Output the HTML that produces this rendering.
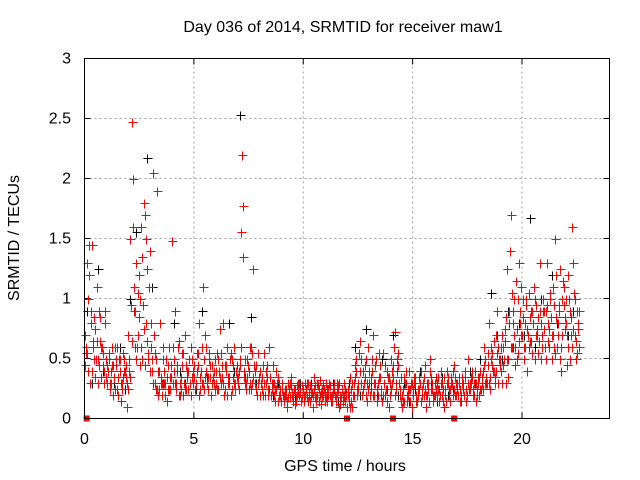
<!DOCTYPE html>
<html><head><meta charset="utf-8"><style>
body{margin:0;background:#fff}
svg{display:block;font-family:"Liberation Sans",sans-serif}
</style></head><body>
<svg id="chart" width="640" height="480">
<text x="343" y="32" font-size="16" text-anchor="middle" fill="#000">Day 036 of 2014, SRMTID for receiver maw1</text>
<text x="345" y="471" font-size="16" text-anchor="middle">GPS time / hours</text>
<text transform="translate(19,238) rotate(-90)" font-size="16" text-anchor="middle">SRMTID / TECUs</text>
<g id="grid"></g>
<g id="ticks"></g>
<g id="pts"></g>
<rect x="84.5" y="58.5" width="525" height="360" fill="none" stroke="#000"/>
</svg>
<script>
const xTicks=[0,5,10,15,20];
const yTicks=[0,0.5,1,1.5,2,2.5,3];
const yTickLabels=["0","0.5","1","1.5","2","2.5","3"];
const redA=[0.45,1.3,1.45,0.9,0.6,0.75,0.5,0.85,0.6,0.4,
0.35,0.5,0.3,0.45,0.25,0.6,0.4,0.3,0.5,0.35,
0.7,1.5,2.0,0.9,0.6,1.2,1.6,1.8,0.8,0.55,
1.4,0.4,0.3,1.9,0.25,0.35,0.6,0.3,0.45,0.25,
1.48,0.5,0.3,0.65,0.25,0.2,0.7,0.4,0.3,0.35,
0.45,0.3,0.55,0.25,1.1,0.35,0.3,0.5,0.2,0.4,
0.3,0.5,0.75,0.35,0.25,0.6,0.3,0.2,0.45,0.3,
0.35,0.5,2.2,0.4,0.3,0.25,0.6,1.25,0.3,0.2,
0.4,0.25,0.55,0.3,0.2,0.35,0.45,0.25,0.3,0.2,
0.15,0.2,0.25,0.3,0.18,0.22,0.12,0.28,0.2,0.15,
0.25,0.2,0.3,0.15,0.22,0.35,0.18,0.25,0.12,0.2,
0.22,0.15,0.28,0.2,0.3,0.18,0.25,0.12,0.2,0.15,
0.1,0.2,0.15,0.3,0.5,0.25,0.65,0.2,0.35,0.15,
0.4,0.25,0.7,0.3,0.2,0.45,0.15,0.3,0.25,0.1,
0.5,0.35,0.72,0.4,0.2,0.1,0.15,0.3,0.2,0.25,
0.2,0.3,0.15,0.25,0.4,0.2,0.1,0.3,0.5,0.25,
0.3,0.2,0.15,0.4,0.25,0.2,0.35,0.15,0.3,0.45,
0.2,0.3,0.15,0.25,0.4,0.2,0.3,0.35,0.2,0.15,
0.3,0.4,0.25,0.5,0.3,0.8,0.6,0.4,0.7,0.3,
0.5,0.3,0.65,1.25,0.8,1.7,0.9,0.6,1.0,0.8,
0.7,0.5,1.0,0.6,0.9,0.8,0.5,0.7,1.3,0.6,
0.9,0.5,0.8,1.0,0.7,1.5,0.6,0.9,0.4,1.1,
0.8,1.2,0.5,1.6,0.7,0.9,0.6];
const redB=[0.6,1.0,0.3,1.45,0.5,0.65,0.9,0.35,0.55,0.8,
0.45,0.25,0.6,0.35,0.5,0.2,0.3,0.55,0.4,0.1,
0.4,2.47,0.9,1.3,0.7,1.0,0.5,1.7,0.65,1.1,
0.6,2.05,0.5,0.2,0.8,0.3,0.4,0.15,0.6,0.35,
0.3,0.9,0.4,0.2,0.55,0.3,0.45,0.25,0.6,0.3,
0.25,0.4,0.8,0.3,0.5,0.6,0.35,0.45,0.3,0.25,
0.55,0.4,0.3,0.8,0.45,0.35,0.5,0.25,0.6,0.35,
0.25,1.55,1.77,0.5,0.35,0.6,0.3,0.45,0.25,0.55,
0.3,0.45,0.2,0.35,0.6,0.25,0.3,0.4,0.15,0.25,
0.3,0.2,0.1,0.25,0.35,0.2,0.15,0.3,0.22,0.28,
0.15,0.3,0.2,0.25,0.1,0.28,0.2,0.32,0.18,0.25,
0.3,0.2,0.15,0.25,0.2,0.3,0.1,0.25,0.18,0.22,
0.25,0.35,0.1,0.45,0.2,0.55,0.3,0.4,0.2,0.6,
0.2,0.5,0.3,0.15,0.35,0.25,0.55,0.2,0.4,0.3,
0.3,0.6,0.25,0.45,0.35,0.15,0.3,0.2,0.4,0.1,
0.35,0.15,0.25,0.3,0.2,0.45,0.3,0.15,0.25,0.2,
0.25,0.35,0.2,0.3,0.1,0.4,0.25,0.3,0.2,0.35,
0.3,0.15,0.35,0.2,0.25,0.5,0.3,0.2,0.4,0.25,
0.2,0.35,0.6,0.3,0.45,0.25,0.55,0.35,0.9,0.5,
0.4,0.6,0.3,0.5,1.4,0.6,1.0,0.5,1.3,0.7,
1.0,0.8,0.4,0.65,0.9,1.1,0.7,0.85,0.5,1.0,
0.6,1.3,0.75,0.5,0.95,1.2,0.7,0.5,1.0,0.85,
0.45,1.0,0.7,1.3,0.5,0.8];
const redC=[0.7,0.55,1.2,0.4,0.85,0.5,0.3,0.65,0.45,0.9,
0.3,0.55,0.4,0.2,0.45,0.35,0.5,0.25,0.4,0.3,
0.5,0.95,1.6,0.6,1.05,0.45,1.35,0.75,1.5,0.5,
0.8,0.3,0.55,0.25,0.4,0.2,0.3,0.5,0.25,0.35,
0.6,0.3,0.45,0.2,0.35,0.55,0.25,0.4,0.3,0.5,
0.35,0.55,0.2,0.4,0.3,0.7,0.25,0.35,0.45,0.3,
0.4,0.25,0.55,0.3,0.45,0.2,0.35,0.5,0.3,0.4,
0.3,0.45,1.35,0.3,0.5,0.4,0.25,0.35,0.45,0.3,
0.2,0.35,0.3,0.45,0.25,0.2,0.3,0.15,0.35,0.2,
0.25,0.15,0.2,0.18,0.28,0.15,0.25,0.2,0.3,0.18,
0.2,0.25,0.15,0.28,0.2,0.18,0.3,0.15,0.22,0.28,
0.18,0.25,0.2,0.15,0.25,0.22,0.3,0.18,0.15,0.25,
0.2,0.1,0.3,0.2,0.4,0.3,0.5,0.25,0.45,0.3,
0.3,0.4,0.2,0.5,0.3,0.35,0.2,0.45,0.15,0.35,
0.25,0.45,0.3,0.55,0.25,0.2,0.35,0.15,0.25,0.3,
0.25,0.35,0.2,0.3,0.25,0.35,0.2,0.25,0.35,0.15,
0.2,0.3,0.25,0.2,0.35,0.15,0.3,0.25,0.4,0.2,
0.25,0.35,0.2,0.3,0.15,0.3,0.25,0.4,0.3,0.2,
0.35,0.25,0.4,0.3,0.55,0.35,0.45,0.65,0.4,0.6,
0.6,0.45,0.75,0.5,0.9,1.05,0.7,1.15,0.55,0.9,
0.85,0.6,0.75,1.05,0.65,0.8,0.95,0.55,0.9,0.7,
0.75,0.95,0.6,0.85,1.1,0.55,0.8,1.25,0.7,0.95,
1.0,0.6,0.85,0.75,1.0,0.55,0.9];
const redD=[0.55,0.4,0.8,0.65,0.35,1.1,0.45,0.6,0.3,0.5,
0.4,0.3,0.45,0.6,0.25,0.5,0.15,0.35,0.45,0.25,
0.35,0.65,1.1,0.5,0.85,0.6,0.95,0.45,1.25,0.4,
0.5,0.7,0.25,0.4,0.3,0.5,0.2,0.35,0.25,0.45,
0.4,0.25,0.6,0.3,0.45,0.25,0.35,0.5,0.2,0.4,
0.3,0.45,0.35,0.6,0.25,0.4,0.55,0.2,0.35,0.5,
0.25,0.35,0.45,0.2,0.4,0.3,0.55,0.35,0.25,0.45,
0.4,0.6,0.35,0.25,0.45,0.3,0.55,0.4,0.2,0.35,
0.3,0.2,0.4,0.25,0.35,0.3,0.2,0.25,0.3,0.15,
0.2,0.25,0.15,0.3,0.2,0.25,0.18,0.22,0.15,0.25,
0.3,0.18,0.22,0.2,0.25,0.15,0.28,0.2,0.25,0.15,
0.25,0.3,0.18,0.22,0.15,0.28,0.2,0.25,0.3,0.2,
0.15,0.25,0.2,0.35,0.25,0.4,0.2,0.3,0.5,0.25,
0.35,0.2,0.45,0.25,0.55,0.2,0.3,0.25,0.35,0.2,
0.4,0.2,0.5,0.3,0.15,0.25,0.4,0.25,0.15,0.3,
0.3,0.2,0.35,0.15,0.3,0.25,0.2,0.4,0.3,0.2,
0.35,0.25,0.3,0.15,0.25,0.3,0.2,0.35,0.25,0.3,
0.2,0.25,0.3,0.35,0.2,0.25,0.35,0.25,0.3,0.35,
0.25,0.3,0.45,0.35,0.3,0.5,0.4,0.3,0.55,0.45,
0.7,0.5,0.85,0.35,0.6,0.8,0.45,0.75,0.65,1.1,
0.6,0.95,0.7,0.85,0.55,1.0,0.75,0.65,0.8,0.9,
0.9,0.65,1.05,0.7,0.6,0.85,0.95,0.6,1.15,0.75,
0.7,0.9,0.6,1.05,0.65,0.75];
const blackV=[0.9,0.3,1.25,0.4,0.5,0.3,0.6,0.25,
1.0,1.55,0.6,2.17,1.1,0.4,0.3,0.25,
0.8,0.4,0.3,0.6,0.25,0.9,0.35,0.3,
0.5,0.3,0.8,0.4,2.53,0.35,0.85,0.3,
0.25,0.45,0.2,0.3,0.15,0.25,0.2,0.3,
0.2,0.3,0.15,0.25,0.2,0.3,0.15,0.2,
0.3,0.6,0.2,0.75,0.3,0.2,0.5,0.25,
0.7,0.2,0.3,0.15,0.25,0.4,0.2,0.3,
0.15,0.35,0.2,0.25,0.3,0.2,0.4,0.3,
0.5,0.3,1.05,0.7,0.5,0.9,0.6,0.8,
0.7,1.67,0.6,1.0,0.5,1.2,0.8,1.0,
0.7,0.9,0.6];
const zeroT=[0.1,12.0,14.1,16.9];
const redSeries=[[redA,0.0],[redB,0.05],[redC,0.025],[redD,0.075]];
const blackStart=0.1, redStep=0.1, blackStep=0.25;

const X0=84.5,X1=609.5,Y0=418.5,Y1=58.5;
const sx=t=>X0+t/24*(X1-X0);
const sy=v=>Y0-v/3*(Y0-Y1);
const NS="http://www.w3.org/2000/svg";
const grid=document.getElementById('grid'),ticks=document.getElementById('ticks'),pts=document.getElementById('pts');
function mk(tag,attrs,parent){const e=document.createElementNS(NS,tag);for(const k in attrs)e.setAttribute(k,attrs[k]);parent.appendChild(e);return e;}
xTicks.forEach(t=>{
  const x=sx(t);
  if(t>0){const g=mk('line',{x1:x,x2:x,y1:Y0,y2:Y1,stroke:'#a0a0a0','stroke-dasharray':'2,3'},grid);
  
  }
  mk('line',{x1:x,x2:x,y1:Y0,y2:Y0-6,stroke:'#000'},ticks);
  mk('line',{x1:x,x2:x,y1:Y1,y2:Y1+6,stroke:'#000'},ticks);
  const l=mk('text',{x:x,y:444,'font-size':16,'text-anchor':'middle'},ticks);l.textContent=t;
  
  
});
yTicks.forEach((v,i)=>{
  const y=sy(v);
  if(v>0&&v<3){const g=mk('line',{x1:X0,x2:X1,y1:y,y2:y,stroke:'#a0a0a0','stroke-dasharray':'2,3'},grid);
  
  }
  mk('line',{x1:X0,x2:X0+6,y1:y,y2:y,stroke:'#000'},ticks);
  mk('line',{x1:X1,x2:X1-6,y1:y,y2:y,stroke:'#000'},ticks);
  const l=mk('text',{x:71,y:y+5,'font-size':16,'text-anchor':'end'},ticks);l.textContent=yTickLabels[i];
  
  
});
function plus(t,v,color){
  const x=Math.round(sx(t))+0.5,y=Math.round(sy(v))+0.5;
  const p=mk('path',{d:`M${x-4} ${y}H${x+5}M${x} ${y-4}V${y+5}`,stroke:color,'stroke-width':1,fill:'none'},pts);
  
  
}
blackV.forEach((v,i)=>plus(blackStart+i*blackStep,v,'#000'));
redSeries.forEach(([arr,start])=>arr.forEach((v,i)=>plus(start+i*redStep,v,'#f00')));
zeroT.forEach(t=>{
  const r=mk('rect',{x:sx(t)-3,y:Y0-3,width:6,height:6,fill:'#f00'},pts);
  
  
});
</script>
</body></html>
